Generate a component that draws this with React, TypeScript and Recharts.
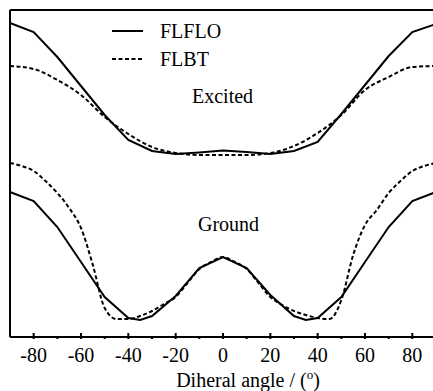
import { LineChart, Line, XAxis, YAxis, ReferenceLine } from 'recharts';

// dihedral angle (deg) and energies (arbitrary units)
const angles10 = [-90, -80, -70, -60, -50, -40, -30, -20, -10, 0, 10, 20, 30, 40, 50, 60, 70, 80, 90];
const excitedFLFLO = [31.4, 30.5, 28.0, 25.1, 22.2, 19.7, 18.6, 18.3, 18.45, 18.65, 18.5, 18.3, 18.6, 19.5, 22.3, 25.2, 28.1, 30.5, 31.3];
const excitedFLBT = [27.1, 26.8, 25.7, 24.2, 22.0, 20.3, 19.0, 18.4, 18.2, 18.2, 18.2, 18.4, 19.1, 20.4, 22.2, 24.7, 26.0, 27.0, 27.1];

const groundAnglesFLFLO = [-90, -80, -70, -60, -50, -40, -35, -30, -20, -10, 0, 10, 20, 30, 35, 40, 50, 60, 70, 80, 90];
const groundFLFLO = [14.5, 13.6, 11.0, 7.5, 4.0, 1.9, 1.7, 2.1, 4.1, 6.9, 8.0, 6.9, 4.2, 2.1, 1.7, 1.9, 4.0, 7.5, 11.0, 13.6, 14.5];

const angles5 = [-90, -85, -80, -75, -70, -65, -60, -55, -50, -45, -40, -35, -30, -25, -20, -15, -10, -5, 0, 5, 10, 15, 20, 25, 30, 35, 40, 45, 50, 55, 60, 65, 70, 75, 80, 85, 90];
const groundFLBT = [17.4, 17.1, 16.6, 15.6, 14.4, 12.9, 10.9, 7.2, 2.9, 1.8, 1.8, 2.1, 2.6, 3.3, 4.0, 5.4, 6.8, 7.5, 8.0, 7.5, 6.8, 5.4, 4.0, 3.2, 2.6, 2.2, 1.9, 1.8, 3.7, 8.2, 11.2, 12.7, 14.4, 15.6, 16.6, 17.1, 17.4];

const xTicks = [-80, -70, -60, -50, -40, -30, -20, -10, 0, 10, 20, 30, 40, 50, 60, 70, 80];
const labeledTicks = [-80, -60, -40, -20, 0, 20, 40, 60, 80];

const zip = (xs: number[], ys: number[]) => xs.map((a, i) => ({ a, e: ys[i] }));

const SERIF = '"Liberation Serif", "DejaVu Serif", Times, serif';
const FS = 20;

const AngleTick = (props: any) => {
  const { x, y, payload } = props;
  const major = labeledTicks.includes(payload.value);
  return (
    <g>
      <line x1={x} x2={x} y1={y} y2={y - (major ? 6 : 3)} stroke="#000" strokeWidth={2} />
      {major && (
        <text x={x} y={y + 23} textAnchor="middle" fontFamily={SERIF} fontSize={FS} fill="#000">
          {payload.value}
        </text>
      )}
    </g>
  );
};

export default function App() {
  return (
    <div style={{ position: 'absolute', left: 0, top: 0, width: 433, height: 391, overflow: 'hidden', background: '#fff', fontFamily: SERIF }}>
      <LineChart width={440} height={391} margin={{ top: 10, right: 4, left: 10, bottom: 0 }}>
        <XAxis
          dataKey="a"
          type="number"
          domain={[-90, 90]}
          ticks={xTicks}
          interval={0}
          tickSize={0}
          tickLine={false}
          tick={<AngleTick />}
          height={54}
          axisLine={{ stroke: '#000', strokeWidth: 2 }}
        />
        <YAxis type="number" domain={[0, 32.7]} hide />
        <ReferenceLine y={32.7} stroke="#000" strokeWidth={2} />
        <ReferenceLine x={-90} stroke="#000" strokeWidth={2} />
        <Line data={zip(angles10, excitedFLFLO)} dataKey="e" type="linear" stroke="#000" strokeWidth={2} dot={false} isAnimationActive={false} />
        <Line data={zip(angles10, excitedFLBT)} dataKey="e" type="monotone" stroke="#000" strokeWidth={2} strokeDasharray="4 2.5" dot={false} isAnimationActive={false} />
        <Line data={zip(groundAnglesFLFLO, groundFLFLO)} dataKey="e" type="linear" stroke="#000" strokeWidth={2} dot={false} isAnimationActive={false} />
        <Line data={zip(angles5, groundFLBT)} dataKey="e" type="monotone" stroke="#000" strokeWidth={2} strokeDasharray="4 2.5" dot={false} isAnimationActive={false} />

        <line x1={112} x2={143} y1={31} y2={31} stroke="#000" strokeWidth={2} />
        <line x1={112} x2={143} y1={59} y2={59} stroke="#000" strokeWidth={2} strokeDasharray="4 2.5" />
        <text x={160} y={38} fontFamily={SERIF} fontSize={FS} fill="#000">FLFLO</text>
        <text x={160} y={66} fontFamily={SERIF} fontSize={FS} fill="#000">FLBT</text>
        <text x={192} y={103} fontFamily={SERIF} fontSize={FS} fill="#000">Excited</text>
        <text x={198} y={231} fontFamily={SERIF} fontSize={FS} fill="#000">Ground</text>
        <text x={248} y={387} textAnchor="middle" fontFamily={SERIF} fontSize={FS} fill="#000">
          Diheral angle / (<tspan dy={-8} fontSize={13}>o</tspan><tspan dy={8}>)</tspan>
        </text>
      </LineChart>
    </div>
  );
}
